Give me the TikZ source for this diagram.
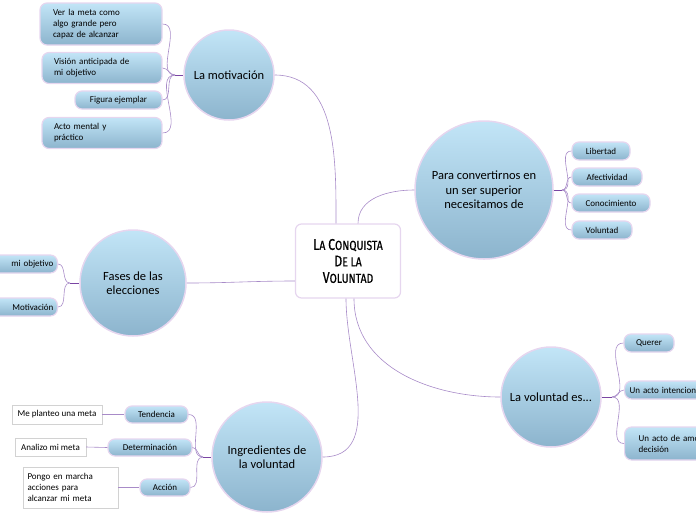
\documentclass[tikz,border=0pt]{standalone}
\usepackage{fontspec}
\setmainfont{Carlito}
\newfontfamily\titlefont[FakeStretch=0.8,FakeBold=0.6]{Fira Sans}
\usetikzlibrary{shadows}
\definecolor{ctop}{HTML}{C2E5F7}
\definecolor{cbot}{HTML}{8CB4CD}
\definecolor{bord}{HTML}{E6D6EF}
\definecolor{lnk}{HTML}{A88BC8}
\definecolor{hubc}{HTML}{7A45A3}
\newcommand{\capletter}[1]{{\fontsize{15.5}{18}\selectfont #1}}
\tikzset{
  topic/.style={circle, draw=bord, line width=1.5pt, top color=ctop, bottom color=cbot, inner sep=0pt, align=center, font=\fontsize{12.5}{14.5}\selectfont},
  leaf/.style={rectangle, rounded corners=7pt, draw=bord, line width=1.2pt, top color=ctop, bottom color=cbot, minimum height=18pt, inner sep=2pt, font=\fontsize{9}{11}\selectfont},
  note/.style={rectangle, draw=gray!35, fill=white, inner sep=3pt, font=\fontsize{9}{11}\selectfont, drop shadow={shadow xshift=1pt, shadow yshift=-1pt, opacity=0.25}},
  link/.style={draw=lnk, line width=0.6pt},
  hubl/.style={draw=hubc, line width=0.9pt}
}
\begin{document}
\begin{tikzpicture}[x=1pt,y=-1pt]
\useasboundingbox (0,0) rectangle (696,520);
\clip (0,0) rectangle (696,520);

% central
\node[rectangle, rounded corners=6pt, draw=bord, line width=1.2pt, fill=white, minimum width=105pt, minimum height=74pt, align=center, font=\titlefont\fontsize{13}{16.5}\selectfont] (c) at (348,261) {\capletter{L}A \capletter{C}ONQUISTA\\\capletter{D}E LA\\\capletter{V}OLUNTAD};

% topics
\node[topic, minimum size=90pt] (mot) at (229,75) {La motivación};
\node[topic, minimum size=138pt] (conv) at (484,190) {Para convertirnos en\\un ser superior\\necesitamos de};
\node[topic, minimum size=106pt] (fas) at (133,283) {Fases de las\\elecciones};
\node[topic, minimum size=110pt] (ing) at (267,457) {Ingredientes de\\la voluntad};
\node[topic, minimum size=100pt] (vol) at (551,397) {La voluntad es...};

% central links
\draw[link] (mot.east) to[out=0,in=90] ([xshift=-12pt]c.north);
\draw[link] ([xshift=10pt]c.north) to[out=90,in=180] (conv.west);
\draw[link] (fas.east) to[out=0,in=180] ([yshift=-20pt]c.west);
\draw[link] ([xshift=-2pt]c.south) to[out=-90,in=0] (ing.east);
\draw[link] ([xshift=6pt]c.south) to[out=-90,in=180] (vol.west);

% motivacion leaves
\coordinate (h1) at (175,75);
\node[leaf, minimum width=122pt, minimum height=42pt, text width=96pt, align=left] (m1) at (101,24) {Ver la meta como\\algo grande pero\\capaz de alcanzar};
\node[leaf, minimum width=120pt, minimum height=31pt, text width=96pt, align=left] (m2) at (102,68) {Visión anticipada de\\mi objetivo};
\node[leaf, minimum width=87pt] (m3) at (118.5,100) {Figura ejemplar};
\node[leaf, minimum width=120pt, minimum height=31pt, text width=96pt, align=left] (m4) at (102,133) {Acto mental y\\práctico};
\draw[hubl] (h1) -- (mot.west);
\foreach \n in {m1,m2,m3,m4} \draw[link] (\n.east) to[out=0,in=180] (h1);

% convertir leaves
\coordinate (h2) at (562,190);
\node[leaf, minimum width=58pt] (k1) at (601,151) {Libertad};
\node[leaf, minimum width=70pt] (k2) at (607,177) {Afectividad};
\node[leaf, minimum width=78pt] (k3) at (611,203) {Conocimiento};
\node[leaf, minimum width=60pt] (k4) at (602,230) {Voluntad};
\draw[hubl] (conv.east) -- (h2);
\foreach \n in {k1,k2,k3,k4} \draw[link] (h2) to[out=0,in=180] (\n.west);

% fases leaves
\coordinate (h3) at (70,283);
\node[leaf, minimum width=70pt, anchor=east, text width=62pt, align=right] (f1) at (58,264) {mi objetivo\hspace*{2pt}};
\node[leaf, minimum width=70pt, anchor=east, text width=62pt, align=right] (f2) at (58,307) {Motivación\hspace*{3pt}};
\draw[hubl] (h3) -- (fas.west);
\foreach \n in {f1,f2} \draw[link] (\n.east) to[out=0,in=180] (h3);

% ingredientes leaves
\coordinate (h4) at (203,457);
\node[leaf, minimum width=63pt, minimum height=17pt] (i1) at (156.5,414.5) {Tendencia};
\node[leaf, minimum width=84pt, minimum height=17pt] (i2) at (150,447.5) {Determinación};
\node[leaf, minimum width=50pt, minimum height=17pt] (i3) at (165,487.5) {Acción};
\draw[hubl] (h4) -- (ing.west);
\foreach \n in {i1,i2,i3} \draw[link] (\n.east) to[out=0,in=180] (h4);
\node[note, minimum width=90pt, minimum height=19pt] (n1) at (57,414.5) {Me planteo una meta};
\node[note, minimum width=71pt, minimum height=18pt] (n2) at (50.5,447) {Analizo mi meta};
\node[note, minimum width=95pt, minimum height=41pt, text width=86pt, align=left] (n3) at (70.5,487.5) {Pongo en marcha\\acciones para\\alcanzar mi meta};
\draw[link] (n1.east) -- (i1.west);
\draw[link] (n2.east) -- (i2.west);
\draw[link] (n3.east) -- (i3.west);

% voluntad leaves
\coordinate (h5) at (612,397);
\node[leaf, minimum width=50pt] (v1) at (649,343) {Querer};
\node[leaf, minimum width=100pt, anchor=west, text width=90pt, align=left] (v2) at (624,390) {Un acto intencional};
\node[leaf, minimum width=100pt, minimum height=33pt, anchor=west, text width=84pt, align=left] (v3) at (624,443.5) {\hspace*{6pt}Un acto de amor y\\\hspace*{6pt}decisión};
\draw[hubl] (vol.east) -- (h5);
\foreach \n in {v1,v2,v3} \draw[link] (h5) to[out=0,in=180] (\n.west);
\end{tikzpicture}
\end{document}
